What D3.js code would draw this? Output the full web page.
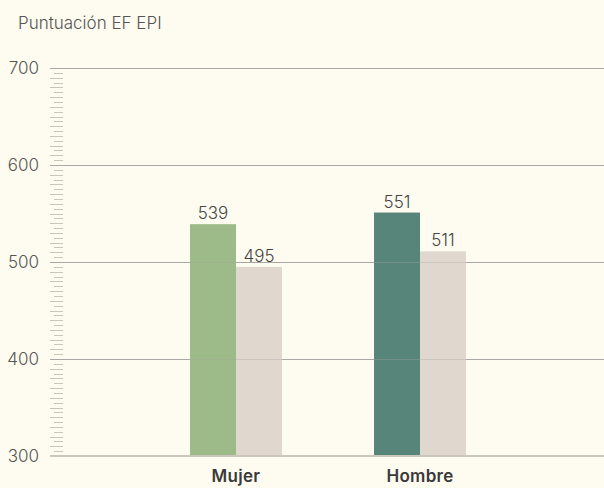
<!DOCTYPE html>
<html lang="es">
<head>
    <meta charset="UTF-8">
    <title>Puntuación EF EPI</title>
    <script src="https://cdnjs.cloudflare.com/ajax/libs/d3/7.8.5/d3.min.js"></script>
    <style>
        body {
            margin: 0;
            background-color: #fefcf0;
            font-family: 'Inter', 'Lato', sans-serif;
        }
        svg { display: block; }
        .ylab { font-size: 17px; fill: #555; font-weight: 300; }
        .vlab { font-size: 17px; fill: #444; font-weight: 300; text-anchor: middle; }
        .cat { font-size: 17px; fill: #3a3a3a; font-weight: 600; text-anchor: middle; letter-spacing: 0.3px; }
    </style>
</head>
<body>
    <svg id="chart" width="604" height="488"></svg>

    <script>
        // data
        const categories = ["Mujer", "Hombre"];
        const series = ["2023", "2022"];
        const scores2023 = [539, 551];
        const scores2022 = [495, 511];
        const yTicks = [300, 400, 500, 600, 700];

        const svg = d3.select("#chart");
        const plotLeft = 52, plotRight = 604, plotTop = 68, plotBottom = 456;

        const y = d3.scaleLinear().domain([300, 700]).range([plotBottom, plotTop]);
        const x0 = d3.scaleBand().domain(categories).range([plotLeft, plotRight])
            .paddingInner(0).paddingOuter(0.5);
        const x1 = d3.scaleBand().domain(series).range([0, x0.bandwidth()])
            .paddingInner(0).paddingOuter(1);

        // title
        svg.append("text")
            .attr("x", 18).attr("y", 29)
            .style("font-size", "17px").style("fill", "#555").style("font-weight", 300)
            .text("Puntuación EF EPI");

        // minor ticks every 5 points
        const minor = d3.range(300, 701, 5);
        svg.selectAll(".minor").data(minor).join("line")
            .attr("x1", d => d % 10 === 0 ? 50 : 54)
            .attr("x2", 63)
            .attr("y1", d => Math.round(y(d)) + 0.5)
            .attr("y2", d => Math.round(y(d)) + 0.5)
            .attr("stroke", "#c9c5b8")
            .attr("stroke-width", 1);

        // gridlines
        svg.selectAll(".grid").data(yTicks.filter(d => d > 300)).join("line")
            .attr("x1", 50).attr("x2", plotRight)
            .attr("y1", d => Math.round(y(d)) + 0.5)
            .attr("y2", d => Math.round(y(d)) + 0.5)
            .attr("stroke", "#aaaaaa")
            .attr("stroke-width", 1);

        // tick labels
        svg.selectAll(".ylab").data(yTicks).join("text")
            .attr("class", "ylab")
            .attr("x", 39).attr("y", d => y(d) + 6)
            .attr("text-anchor", "end")
            .text(d => d);

        const colors = {
            "Mujer": ["#9cbb88", "#e0d7cf"],
            "Hombre": ["#58857a", "#e0d7cf"]
        };

        const rows = categories.map((c, i) => ({
            cat: c,
            vals: [{ s: series[0], v: scores2023[i] }, { s: series[1], v: scores2022[i] }]
        }));

        const groups = svg.selectAll(".g").data(rows).join("g")
            .attr("transform", d => `translate(${x0(d.cat)},0)`);

        groups.selectAll("rect").data(d => d.vals.map((v, j) => ({ ...v, cat: d.cat, j }))).join("rect")
            .attr("x", d => x1(d.s))
            .attr("width", x1.bandwidth())
            .attr("y", d => y(d.v))
            .attr("height", d => y(300) - y(d.v))
            .attr("fill", d => colors[d.cat][d.j]);

        groups.selectAll(".vlab").data(d => d.vals).join("text")
            .attr("class", "vlab")
            .attr("x", d => x1(d.s) + x1.bandwidth() / 2)
            .attr("y", d => y(d.v) - 5)
            .text(d => d.v);

        // gridline faintly over the bars
        svg.selectAll(".grid2").data(yTicks.filter(d => d > 300)).join("line")
            .attr("x1", 50).attr("x2", plotRight)
            .attr("y1", d => Math.round(y(d)) + 0.5)
            .attr("y2", d => Math.round(y(d)) + 0.5)
            .attr("stroke", "#a8a69e")
            .attr("stroke-opacity", 0.35)
            .attr("stroke-width", 1);

        // baseline
        svg.append("line")
            .attr("x1", 50).attr("x2", plotRight)
            .attr("y1", y(300)).attr("y2", y(300))
            .attr("stroke", "#cbc7bd")
            .attr("stroke-width", 2);

        // category labels
        svg.selectAll(".cat").data(categories).join("text")
            .attr("class", "cat")
            .attr("x", d => x0(d) + x0.bandwidth() / 2)
            .attr("y", 482)
            .text(d => d);
    </script>
</body>
</html>
